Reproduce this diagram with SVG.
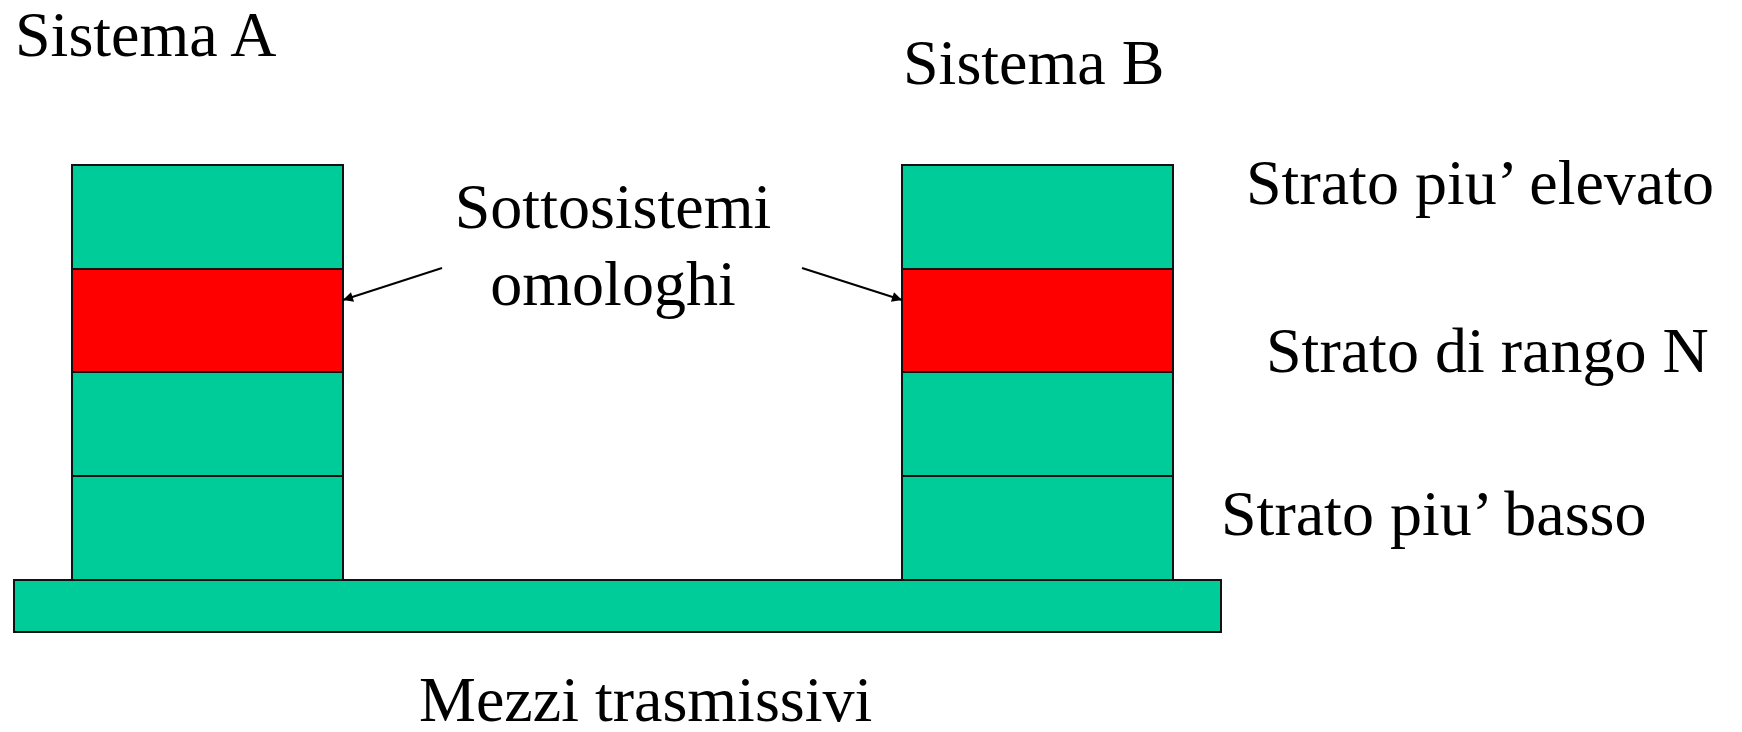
<svg xmlns="http://www.w3.org/2000/svg" width="1742" height="732" viewBox="0 0 1742 732">
<style>
.g{fill:#00CC99;stroke:#111;stroke-width:2}
.r{fill:#FF0000;stroke:#111;stroke-width:2}
.t{font-family:"Liberation Serif",serif;font-size:64px;fill:#000}
.c{stroke:#000;stroke-width:2;fill:none}
</style>
<defs>
<marker id="ah" viewBox="0 0 10 10" refX="10" refY="5" markerWidth="14" markerHeight="10" markerUnits="userSpaceOnUse" orient="auto">
<path d="M0,0 L10,5 L0,10 z" fill="#000"/>
</marker>
</defs>
<rect width="1742" height="732" fill="#fff"/>
<g id="base"><rect class="g" x="14" y="580" width="1207" height="52"/></g>
<g id="stackA">
<rect class="g" x="72" y="165" width="271" height="104"/>
<rect class="r" x="72" y="269" width="271" height="103"/>
<rect class="g" x="72" y="372" width="271" height="104"/>
<rect class="g" x="72" y="476" width="271" height="104"/>
</g>
<g id="stackB">
<rect class="g" x="902" y="165" width="271" height="104"/>
<rect class="r" x="902" y="269" width="271" height="103"/>
<rect class="g" x="902" y="372" width="271" height="104"/>
<rect class="g" x="902" y="476" width="271" height="104"/>
</g>
<g id="connectors">
<line class="c" x1="442" y1="268" x2="343" y2="300" marker-end="url(#ah)"/>
<line class="c" x1="802" y1="268" x2="902" y2="300" marker-end="url(#ah)"/>
</g>
<g id="labels">
<text class="t" x="15" y="56">Sistema A</text>
<text class="t" x="903" y="84">Sistema B</text>
<text class="t" x="613" y="228" text-anchor="middle">Sottosistemi</text>
<text class="t" x="613" y="305" text-anchor="middle">omologhi</text>
<text class="t" x="1246" y="204">Strato piu’ elevato</text>
<text class="t" x="1266" y="372">Strato di rango N</text>
<text class="t" x="1221" y="535">Strato piu’ basso</text>
<text class="t" x="419" y="721">Mezzi trasmissivi</text>
</g>
</svg>
